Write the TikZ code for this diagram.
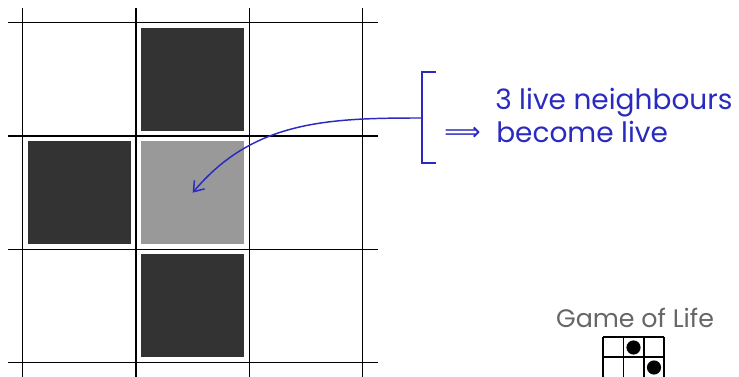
\documentclass[tikz,border=0pt]{standalone}
\usepackage{fontspec}
\setmainfont{Poppins}
\newfontfamily\symfont{DejaVu Sans}
\usetikzlibrary{arrows.meta}
\definecolor{livecol}{HTML}{333333}
\definecolor{newcol}{HTML}{999999}
\definecolor{annot}{HTML}{2A2AC0}
\definecolor{titlecol}{HTML}{666666}
\tikzset{
  gridline/.style={line width=0.85pt, black},
  cellbox/.style={minimum size=77.25pt, inner sep=0pt, outer sep=0pt},
  live/.style={cellbox, fill=livecol},
  born/.style={cellbox, fill=newcol},
  annotline/.style={annot, line width=1.1pt},
  annottext/.style={annot, font=\fontsize{21}{24}\selectfont, anchor=base west, inner sep=0pt},
  mini/.style={line width=0.9pt, black},
}
\begin{document}
\begin{tikzpicture}[x=0.75pt,y=-0.75pt]
\useasboundingbox (0,0) rectangle (739,377);
\clip (0,0) rectangle (739,377);
% grid
\foreach \p in {22.7,136,249.3,362.7}{
  \draw[gridline] (\p,8) -- (\p,377);
  \draw[gridline] (8,\p) -- (377.5,\p);
}
% cells
\node[live] (top) at (192.7,80) {};
\node[live] (left) at (79.3,192.7) {};
\node[born] (c) at (192.7,192.7) {};
\node[live] (bottom) at (192.7,306) {};
% bracket
\coordinate (bt) at (436,72);
\coordinate (bb) at (436,163);
\coordinate (bm) at (422,118);
\draw[annotline] (bt) -- (422,72) -- (422,163) -- (bb);
\draw[annotline, -{Straight Barb[length=7pt, width=10pt]}] (bm) to[out=180, in=50] (c.center);
% texts
\node[annottext] (t1) at (495,110) {3 live neighbours};
\node[annottext] (t2) at (496,143) {become live};
\node[annot, inner sep=0pt, font=\symfont\fontsize{19}{22}\selectfont] (imp) at (462.5,134) {⟹};
% title
\node[titlecol, font=\fontsize{19}{22}\selectfont, inner sep=0pt] (title) at (635,318) {Game of Life};
% glider icon
\draw[mini] (603,337) -- (664,337);
\draw[mini] (603,357) -- (664,357);
\foreach \x in {603,623.5,644,664}{ \draw[mini] (\x,337) -- (\x,378); }
\fill (633.5,347.5) circle (5.3pt);
\fill (654,367.5) circle (5.3pt);
\end{tikzpicture}
\end{document}
